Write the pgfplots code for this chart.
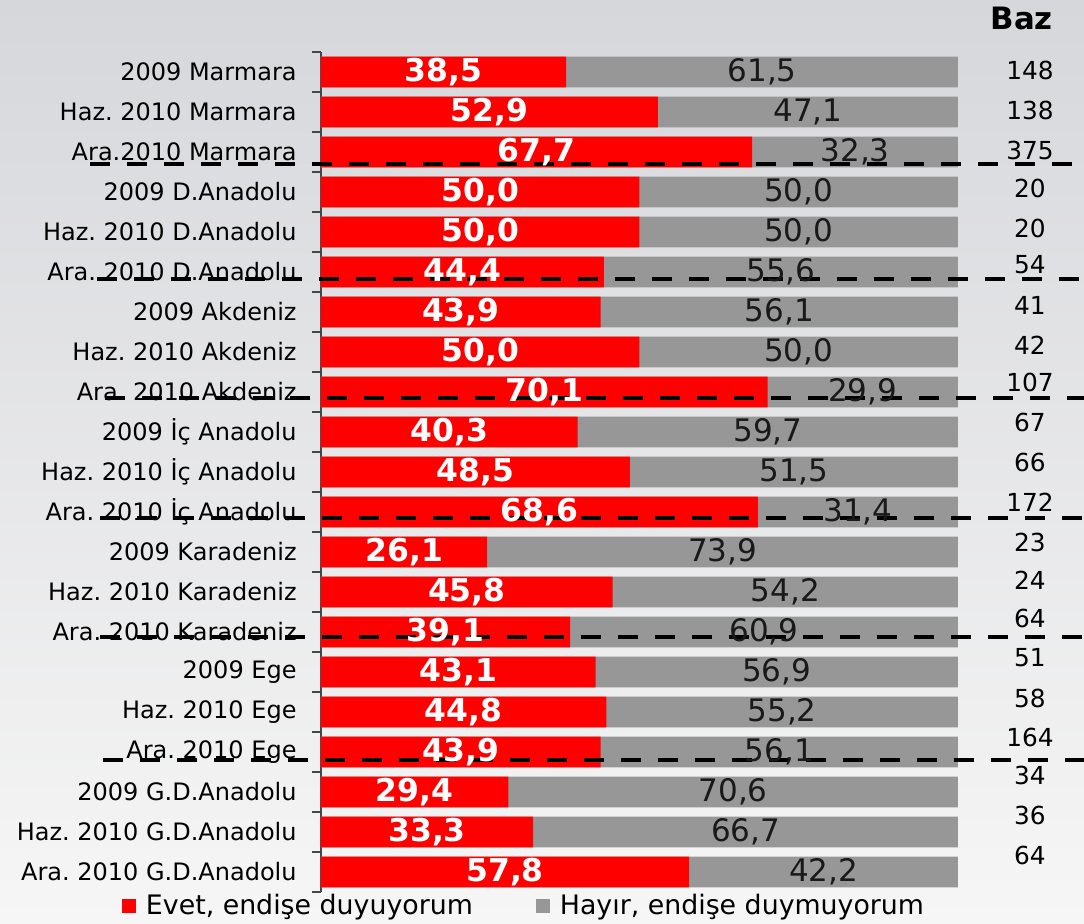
\documentclass[border=0pt]{standalone}
\usepackage{pgfplots}
\usepackage{pgfplotstable}
\pgfplotsset{compat=1.18}
\usepackage{fontspec}
\setmainfont{DejaVu Sans}
\frenchspacing
\definecolor{barred}{RGB}{255,0,0}
\definecolor{bargray}{RGB}{151,151,151}
\definecolor{axgray}{RGB}{70,70,70}
\definecolor{bgtop}{RGB}{214,215,219}
\definecolor{bgbot}{RGB}{246,246,246}

\pgfplotstableread{
row evet hayir baz bazy
1 38.5 61.5 148 0.95
2 52.9 47.1 138 1.95
3 67.7 32.3 375 2.95
4 50.0 50.0 20 3.9
5 50.0 50.0 20 4.9
6 44.4 55.6 54 5.825
7 43.9 56.1 41 6.825
8 50.0 50.0 42 7.825
9 70.1 29.9 107 8.75
10 40.3 59.7 67 9.75
11 48.5 51.5 66 10.75
12 68.6 31.4 172 11.75
13 26.1 73.9 23 12.75
14 45.8 54.2 24 13.7
15 39.1 60.9 64 14.65
16 43.1 56.9 51 15.65
17 44.8 55.2 58 16.65
18 43.9 56.1 164 17.625
19 29.4 70.6 34 18.575
20 33.3 66.7 36 19.575
21 57.8 42.2 64 20.575
}\data

\begin{document}
\begin{tikzpicture}
\begin{axis}[
  set layers,
  x=3.185pt, y=20pt,
  xmin=0, xmax=100, ymin=0.5, ymax=21.5,
  y dir=reverse,
  axis x line=none,
  axis y line*=left,
  axis line style={axgray, line width=0.6pt, -},
  ytick={1,...,21},
  yticklabels={2009 Marmara, Haz. 2010 Marmara, Ara.2010 Marmara,
    2009 D.Anadolu, Haz. 2010 D.Anadolu, Ara. 2010 D.Anadolu,
    2009 Akdeniz, Haz. 2010 Akdeniz, Ara. 2010 Akdeniz,
    2009 İç Anadolu, Haz. 2010 İç Anadolu, Ara. 2010 İç Anadolu,
    2009 Karadeniz, Haz. 2010 Karadeniz, Ara. 2010 Karadeniz,
    2009 Ege, Haz. 2010 Ege, Ara. 2010 Ege,
    2009 G.D.Anadolu, Haz. 2010 G.D.Anadolu, Ara. 2010 G.D.Anadolu},
  major tick length=0pt,
  minor ytick={0.5,1.5,...,21.5},
  minor tick length=4.5pt,
  tick align=outside,
  tick style={axgray, line width=0.6pt},
  yticklabel style={font=\fontsize{12}{14}\selectfont, inner sep=0pt, xshift=-12pt},
  clip=false,
  /pgf/number format/assume math mode=true,
  legend style={at={(0.3203,-0.017)}, anchor=center, draw=none, fill=none,
    legend columns=2, font=\fontsize{13.4}{15}\selectfont, inner sep=0pt,
    /tikz/every odd column/.append style={column sep=3pt},
    /tikz/every even column/.append style={column sep=29.5pt}},
  legend image code/.code={\fill[#1] (0pt,-3.5pt) rectangle (7pt,3.5pt);},
]
\begin{pgfonlayer}{axis background}
\shade[top color=bgtop, bottom color=bgbot] (axis cs:-50.39,-0.8) rectangle (axis cs:119.78,22.275);
\end{pgfonlayer}
\coordinate (bgA) at (axis cs:-50.39,-0.8);
\coordinate (bgB) at (axis cs:119.78,22.275);

\addplot[xbar, bar shift=0pt, bar width=15.3pt, fill=bargray, draw=none, forget plot]
  table[x expr=\thisrow{evet}+\thisrow{hayir}, y=row] {\data};
\addplot[xbar, bar shift=0pt, bar width=15.3pt, fill=barred, draw=none, forget plot]
  table[x=evet, y=row] {\data};

\addplot[draw=none, mark=none, forget plot, nodes near coords, point meta=explicit,
  nodes near coords style={anchor=center, text=white, font=\bfseries\fontsize{15.7}{17}\selectfont,
    /pgf/number format/.cd, fixed, fixed zerofill, precision=1, use comma}]
  table[x expr=\thisrow{evet}/2, y=row, meta=evet] {\data};
\addplot[draw=none, mark=none, forget plot, nodes near coords, point meta=explicit,
  nodes near coords style={anchor=center, text=black!90, font=\fontsize{15.5}{17}\selectfont,
    /pgf/number format/.cd, fixed, fixed zerofill, precision=1, use comma}]
  table[x expr=(\thisrow{evet}+100)/2, y=row, meta=hayir] {\data};
\addplot[draw=none, mark=none, forget plot, nodes near coords, point meta=explicit symbolic,
  nodes near coords style={anchor=center, text=black, font=\fontsize{12.4}{14}\selectfont}]
  table[x expr=111.3, y=bazy, meta=baz] {\data};

\addplot[black, line width=2pt, dash pattern=on 10pt off 8.5pt, forget plot] coordinates {(-36.3,3.3) (117.9,3.3)};
\addplot[black, line width=2pt, dash pattern=on 10pt off 8.5pt, forget plot] coordinates {(-35.2,6.175) (119.78,6.175)};
\addplot[black, line width=2pt, dash pattern=on 10pt off 8.5pt, forget plot] coordinates {(-33.9,9.15) (119.78,9.15)};
\addplot[black, line width=2pt, dash pattern=on 10pt off 8.5pt, forget plot] coordinates {(-34.7,12.15) (119.78,12.15)};
\addplot[black, line width=2pt, dash pattern=on 10pt off 8.5pt, forget plot] coordinates {(-34.7,15.125) (119.78,15.125)};
\addplot[black, line width=2pt, dash pattern=on 10pt off 8.5pt, forget plot] coordinates {(-34.2,18.2) (119.78,18.2)};

\node[font=\bfseries\fontsize{15.4}{17}\selectfont] at (axis cs:110,-0.35) {Baz};

\addlegendimage{fill=barred, draw=none}
\addlegendentry{Evet, endişe duyuyorum}
\addlegendimage{fill=bargray, draw=none}
\addlegendentry{Hayır, endişe duymuyorum}
\end{axis}
\pgfresetboundingbox
\path (bgA) rectangle (bgB);
\end{tikzpicture}
\end{document}
